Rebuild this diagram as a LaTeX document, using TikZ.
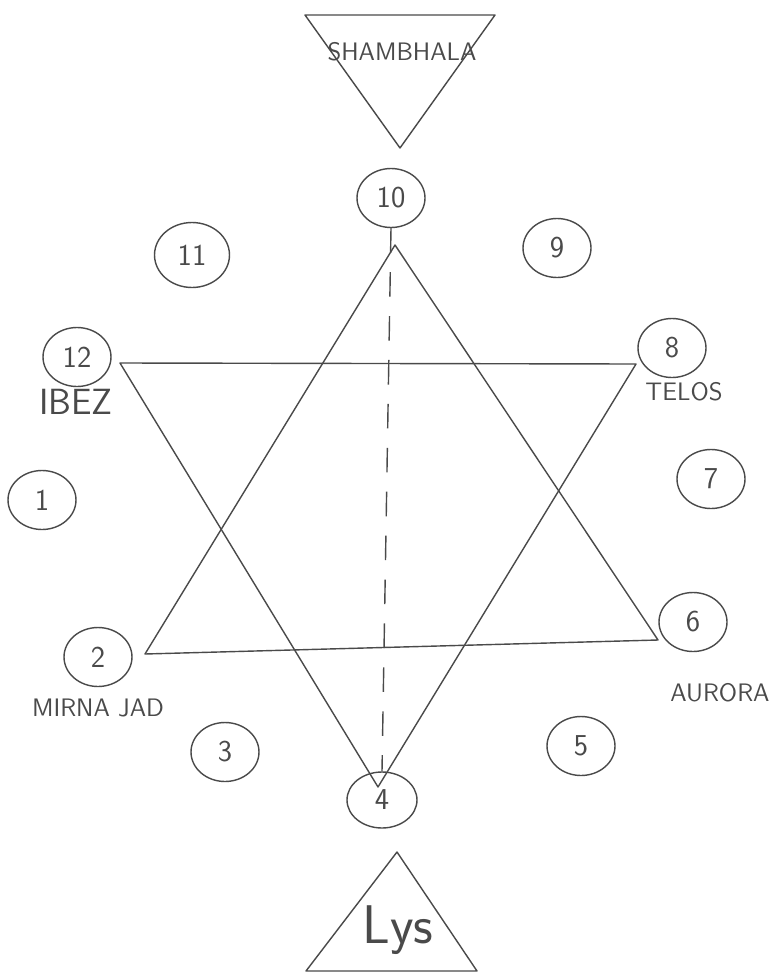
\documentclass[tikz,border=0pt]{standalone}
\usepackage{fontspec}
\usepackage{tikz}
\usetikzlibrary{shapes.geometric, calc}
\definecolor{pencil}{HTML}{4A4A4A}
\tikzset{
  num/.style={draw=pencil, ellipse, minimum width=1.36cm, minimum height=1.18cm,
              inner sep=1pt, font=\sffamily\LARGE, text=pencil, line width=0.8pt},
  place/.style={font=\sffamily, text=pencil},
  edge/.style={draw=pencil, line width=0.8pt, line join=round},
}
\begin{document}
\begin{tikzpicture}[x=0.02cm, y=-0.02cm]
  \useasboundingbox (0,0) rectangle (781,977);
  % top triangle
  \coordinate (shtl) at (305,15);
  \coordinate (shtr) at (495,15);
  \coordinate (shb) at (400,148);
  \draw[edge] (shtl) -- (shtr) -- (shb) -- cycle;
  \node[place, font=\sffamily\Large] (shambhala) at (402,52) {SHAMBHALA};

  % numbered circles
  \node[num] (n10) at (391,198) {10};
  \node[num, minimum width=1.5cm, minimum height=1.3cm] (n11) at (192,255) {11};
  \node[num] (n9) at (557,248) {9};
  \node[num] (n12) at (77,357) {12};
  \node[num] (n8) at (672,348) {8};
  \node[num] (n1) at (42,500) {1};
  \node[num] (n7) at (711,479) {7};
  \node[num] (n2) at (98,657) {2};
  \node[num] (n6) at (693,622) {6};
  \node[num] (n3) at (225,752) {3};
  \node[num] (n5) at (581,746) {5};
  \node[num, minimum width=1.4cm, minimum height=1.12cm] (n4) at (382,800) {4};

  % names
  \node[place, font=\sffamily\huge] (ibez) at (76,402) {IBEZ};
  \node[place, font=\sffamily\Large] (telos) at (684,392) {TELOS};
  \node[place, font=\sffamily\Large] (mirna) at (98,708) {MIRNA JAD};
  \node[place, font=\sffamily\Large] (aurora) at (720,693) {AURORA};

  % star
  \coordinate (ua) at (395,245);
  \coordinate (ul) at (145,654);
  \coordinate (ur) at (658,640);
  \coordinate (dl) at (120,363);
  \coordinate (dr) at (636,364);
  \coordinate (db) at (378,787);
  \draw[edge] (ua) -- (ul) -- (ur) -- cycle;
  \draw[edge] (dl) -- (dr) -- (db) -- cycle;
  \draw[edge, dash pattern=on 14pt off 11pt] (n10.south) -- (n4.north);

  % bottom triangle
  \coordinate (lyt) at (397,852);
  \coordinate (lyl) at (306,971);
  \coordinate (lyr) at (477,971);
  \draw[edge] (lyt) -- (lyr) -- (lyl) -- cycle;
  \node[place, font=\sffamily\fontsize{31}{34}\selectfont] (lys) at (398,930) {Lys};
\end{tikzpicture}
\end{document}
